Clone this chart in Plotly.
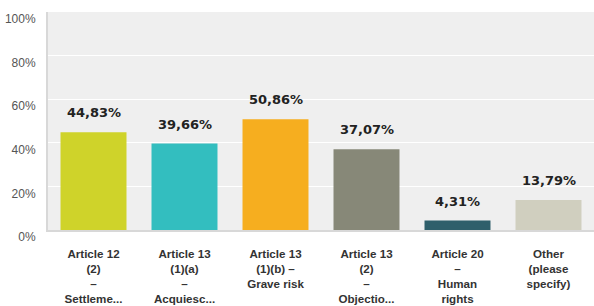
import plotly.graph_objects as go

categories = [
    "Article 12<br>(2)<br>–<br>Settleme...",
    "Article 13<br>(1)(a)<br>–<br>Acquiesc...",
    "Article 13<br>(1)(b) –<br>Grave risk",
    "Article 13<br>(2)<br>–<br>Objectio...",
    "Article 20<br>–<br>Human<br>rights",
    "Other<br>(please<br>specify)",
]
values = [44.83, 39.66, 50.86, 37.07, 4.31, 13.79]
y_tick_values = [0, 20, 40, 60, 80, 100]
y_tick_labels = ["0%", "20%", "40%", "60%", "80%", "100%"]

colors = ["#CFD32A", "#33BEBF", "#F6AE1F", "#878878", "#2F5F6B", "#D0CFBF"]

fig = go.Figure()
fig.add_trace(go.Bar(
    x=list(range(len(categories))),
    y=values,
    marker=dict(color=colors, line=dict(width=0)),
    hoverinfo="skip",
))

annotations = []
for i, v in enumerate(values):
    annotations.append(dict(
        x=i, y=v, xref="x", yref="y",
        text=f"{v:.2f}".replace(".", ",") + "%",
        showarrow=False, yanchor="bottom", yshift=10,
        font=dict(family="DejaVu Sans", size=13, color="#222222", weight="bold"),
    ))

fig.update_layout(
    width=594, height=306,
    margin=dict(l=48, r=0, t=12, b=76, autoexpand=False),
    paper_bgcolor="white",
    plot_bgcolor="#EFEFEF",
    bargap=0.275,
    showlegend=False,
    annotations=annotations,
    xaxis=dict(
        tickmode="array",
        tickvals=list(range(len(categories))),
        ticktext=categories,
        range=[-0.5, 5.5],
        showgrid=False,
        zeroline=False,
        showline=True, linecolor="#D8D8D8", linewidth=2,
        ticks="outside", ticklen=12, tickcolor="rgba(0,0,0,0)",
        tickfont=dict(family="Liberation Sans", size=11.6, color="#333333", weight="bold"),
        automargin=False,
        fixedrange=True,
    ),
    yaxis=dict(
        tickmode="array",
        tickvals=y_tick_values,
        ticktext=y_tick_labels,
        range=[0, 100],
        showgrid=True, gridcolor="#FFFFFF", gridwidth=1,
        zeroline=False,
        showline=True, linecolor="#D8D8D8", linewidth=2,
        ticks="outside", ticklen=8, tickcolor="rgba(0,0,0,0)",
        tickfont=dict(family="Liberation Sans", size=12, color="#555555"),
        ticklabelshift=7,
        automargin=False,
        fixedrange=True,
    ),
)

fig.write_html("out.html", config={"displayModeBar": False},
               post_script="document.body.style.margin='0';document.body.style.padding='0';")
